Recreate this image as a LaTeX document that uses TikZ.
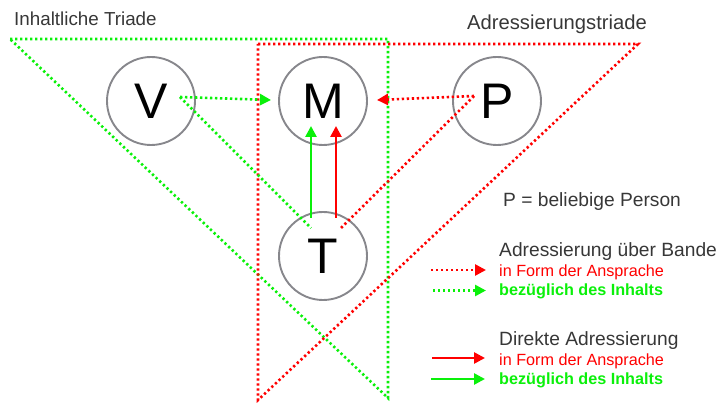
\documentclass[tikz,border=0pt]{standalone}
\usepackage{fontspec}
\setmainfont{Liberation Sans}
\usetikzlibrary{arrows.meta}
\definecolor{lgreen}{RGB}{10,240,10}
\definecolor{lred}{RGB}{255,0,0}
\definecolor{ringgray}{RGB}{135,135,140}
\definecolor{labelgray}{RGB}{55,55,55}
\tikzset{
  person/.style={circle, draw=ringgray, line width=1.9pt, minimum size=88pt, inner sep=0pt, font=\fontsize{50}{50}\selectfont},
  dotline/.style={line width=2.6pt, dash pattern=on 2.3pt off 2.7pt},
  tip/.style={-{Triangle[length=11pt,width=11pt]}},
  direct/.style={line width=2.6pt, tip},
  title/.style={text=labelgray, font=\fontsize{19.2}{21}\selectfont, inner sep=0pt, anchor=base west},
  legred/.style={text=lred, font=\fontsize{16.2}{18}\selectfont, inner sep=0pt, anchor=base west},
  leggreen/.style={text=lgreen, font=\fontsize{16.2}{18}\selectfont\bfseries, inner sep=0pt, anchor=base west}
}
\begin{document}
\begin{tikzpicture}[x=1pt,y=-1pt]
\useasboundingbox (0,0) rectangle (721,403);

% triangle corners
\coordinate (g1) at (10,39);
\coordinate (g2) at (388,39);
\coordinate (g3) at (388,398);
\coordinate (r1) at (258,44);
\coordinate (r2) at (638,44);
\coordinate (r3) at (258,400);

% content triad (green) and addressing triad (red)
\draw[dotline, lgreen] (g1) -- (g2) -- (g3) -- cycle;
\draw[dotline, lred] (r1) -- (r2) -- (r3) -- cycle;

% persons
\node[person] (V) at (151,101) {V};
\node[person] (M) at (323,101) {M};
\node[person] (P) at (497,101) {P};
\node[person] (T) at (323,256) {T};

% inner anchors of the dotted links
\coordinate (vs) at (180,97);
\coordinate (ps) at (474,96);
\coordinate (tg) at (311,228);
\coordinate (tr) at (341,228);
\coordinate (mw) at (271,100);
\coordinate (me) at (377,100);

\draw[dotline, lgreen, tip] (vs) -- (mw);
\draw[dotline, lgreen] (vs) -- (tg);
\draw[dotline, lred, tip] (ps) -- (me);
\draw[dotline, lred] (ps) -- (tr);

% direct addressing from T up to M
\coordinate (dg0) at (311,218);
\coordinate (dg1) at (311,126);
\coordinate (dr0) at (336,218);
\coordinate (dr1) at (336,126);
\draw[direct, lgreen] (dg0) -- (dg1);
\draw[direct, lred] (dr0) -- (dr1);

% titles
\node[title, font=\fontsize{18.8}{21}\selectfont] (ti) at (14,25.5) {Inhaltliche Triade};
\node[title, font=\fontsize{20.2}{22}\selectfont] (ta) at (467,30) {Adressierungstriade};
\node[title] (pp) at (503,207) {P = beliebige Person};

% legend
\node[title] (l1) at (499,257) {Adressierung über Bande};
\node[legred] (l1r) at (499,277) {in Form der Ansprache};
\node[leggreen] (l1g) at (499,296) {bezüglich des Inhalts};
\coordinate (a1) at (431,270);
\coordinate (a1e) at (486,270);
\coordinate (a2) at (433,290.5);
\coordinate (a2e) at (486,290.5);
\draw[dotline, lred, tip] (a1) -- (a1e);
\draw[dotline, lgreen, tip] (a2) -- (a2e);

\node[title] (l2) at (499,345.5) {Direkte Adressierung};
\node[legred] (l2r) at (499,365.5) {in Form der Ansprache};
\node[leggreen] (l2g) at (499,384.5) {bezüglich des Inhalts};
\coordinate (b1) at (432,358);
\coordinate (b1e) at (485,358);
\coordinate (b2) at (431,379);
\coordinate (b2e) at (485,379);
\draw[direct, lred] (b1) -- (b1e);
\draw[direct, lgreen] (b2) -- (b2e);
\end{tikzpicture}
\end{document}
